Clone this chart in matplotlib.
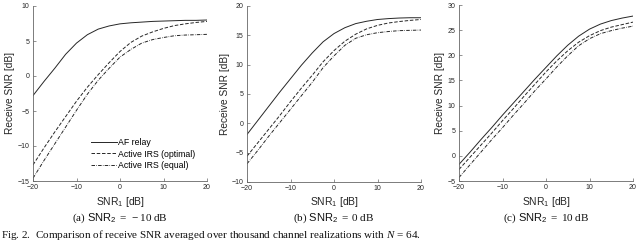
import numpy as np
import matplotlib
matplotlib.use("Agg")
import matplotlib.pyplot as plt

# every 2.5 dB
snr1 = [-20, -17.5, -15, -12.5, -10, -7.5, -5, -2.5, 0, 2.5, 5, 7.5, 10, 12.5, 15, 17.5, 20]

# (a) SNR2 = -10 dB
af_a = [-2.8, -0.8, 1.1, 3.1, 4.7, 5.9, 6.7, 7.15, 7.45, 7.6, 7.7, 7.8, 7.85, 7.9, 7.95, 7.95, 8.0]
opt_a = [-12.7, -10.3, -8.0, -5.8, -3.6, -1.6, 0.2, 1.9, 3.5, 4.8, 5.7, 6.3, 6.8, 7.2, 7.45, 7.65, 7.8]
eq_a = [-14.6, -12.1, -9.7, -7.3, -4.9, -2.6, -0.6, 1.1, 2.7, 3.8, 4.7, 5.2, 5.5, 5.75, 5.85, 5.9, 5.95]

# (b) SNR2 = 0 dB
af_b = [-1.9, 0.5, 2.9, 5.3, 7.6, 9.9, 12.0, 13.9, 15.3, 16.3, 17.0, 17.4, 17.7, 17.85, 17.95, 18.0, 18.0]
opt_b = [-5.6, -3.3, -1.0, 1.3, 3.7, 6.0, 8.2, 10.5, 12.4, 14.0, 15.2, 16.1, 16.7, 17.1, 17.35, 17.55, 17.7]
eq_b = [-6.9, -4.6, -2.2, 0.1, 2.4, 4.7, 7.0, 9.5, 11.5, 13.3, 14.5, 15.1, 15.45, 15.65, 15.8, 15.85, 15.9]

# (c) SNR2 = 10 dB
af_c = [-1.7, 0.7, 3.2, 5.6, 8.1, 10.5, 12.9, 15.3, 17.6, 19.9, 22.0, 23.8, 25.2, 26.2, 26.9, 27.4, 27.8]
opt_c = [-2.7, -0.3, 2.1, 4.5, 7.0, 9.4, 11.9, 14.3, 16.7, 18.9, 20.9, 22.6, 23.9, 24.9, 25.6, 26.1, 26.6]
eq_c = [-4.3, -1.8, 0.7, 3.2, 5.6, 8.1, 10.5, 13.0, 15.3, 17.7, 19.9, 21.9, 23.3, 24.3, 24.9, 25.4, 25.8]

labels = ["AF relay", "Active IRS (optimal)", "Active IRS (equal)"]
xticks = [-20, -10, 0, 10, 20]
ylims = [(-15, 10), (-10, 20), (-5, 30)]
subcaps = [r"(a) $\mathsf{SNR}_\mathsf{2}\ =\ -10\ \mathrm{dB}$",
           r"(b) $\mathsf{SNR}_\mathsf{2}\ =\ 0\ \mathrm{dB}$",
           r"(c) $\mathsf{SNR}_\mathsf{2}\ =\ 10\ \mathrm{dB}$"]

plt.rcParams["mathtext.fontset"] = "custom"
plt.rcParams["mathtext.rm"] = "Liberation Serif"
plt.rcParams["mathtext.it"] = "Liberation Serif:italic"
plt.rcParams["mathtext.sf"] = "Liberation Sans"
plt.rcParams["font.family"] = "Liberation Sans"

fig = plt.figure(figsize=(6.4, 2.41), dpi=100)

# axes boxes in pixels: left, top, right, bottom
boxes = [(33, 6, 207, 181), (247, 6, 421, 182), (459, 5, 633, 181)]
ylab_off = [23, 22, 19]

data = [(af_a, opt_a, eq_a), (af_b, opt_b, eq_b), (af_c, opt_c, eq_c)]
ink = "#262626"

for i, (l, t, r, b) in enumerate(boxes):
    ax = fig.add_axes([l / 640, (241 - b) / 241, (r - l) / 640, (b - t) / 241])
    af, opt, eq = data[i]
    ax.plot(snr1, af, color=ink, lw=0.7, label=labels[0])
    ax.plot(snr1, opt, color=ink, lw=0.7, dashes=(3.6, 1.8), label=labels[1])
    ax.plot(snr1, eq, color=ink, lw=0.7, dashes=(3.6, 1.3, 0.6, 1.3), label=labels[2])
    ax.set_xlim(-20, 20)
    ax.set_ylim(*ylims[i])
    ax.set_xticks(xticks)
    ax.set_yticks(np.arange(ylims[i][0], ylims[i][1] + 1, 5))
    for s in ["top", "right"]:
        ax.spines[s].set_visible(False)
    for s in ["left", "bottom"]:
        ax.spines[s].set_color("#666666")
        ax.spines[s].set_linewidth(0.6)
    ax.tick_params(direction="in", length=2, width=0.5, color="#666666",
                   labelsize=5, labelcolor=ink, pad=2.5)
    ax.set_xlabel(r"SNR$_\mathsf{1}$ [dB]", fontsize=7.5, color=ink)
    ax.xaxis.set_label_coords(0.5, -(202 - b) / (b - t))
    ax.xaxis.label.set_va("center")
    ax.set_ylabel("Receive SNR [dB]", fontsize=7.3, color=ink)
    ax.yaxis.set_label_coords(-ylab_off[i] / (r - l), 0.5)
    ax.yaxis.label.set_va("center")
    fig.text((l + r) / 2 / 640, (241 - 218) / 241, subcaps[i], ha="center", va="center",
             fontsize=8, family="Liberation Serif", color="#111111")
    if i == 0:
        ax.legend(loc="center left", bbox_to_anchor=(0.335, 0.154), frameon=False,
                  fontsize=6.3, handlelength=2.9, handletextpad=0.15, labelspacing=0.3,
                  borderaxespad=0, borderpad=0)

fig.text(0.002, (241 - 235) / 241,
         r"Fig. 2.  Comparison of receive SNR averaged over thousand channel realizations with $N$ = 64.",
         ha="left", va="center", fontsize=8, family="Liberation Serif", color="#111111")

fig.savefig("out.png", dpi=100)
